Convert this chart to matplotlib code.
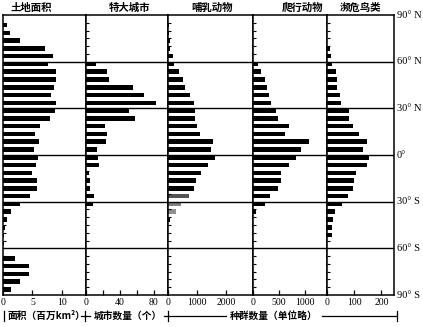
import matplotlib
matplotlib.use("Agg")
import matplotlib.pyplot as plt
from matplotlib.lines import Line2D

plt.rcParams["font.family"] = ["Liberation Serif", "Noto Sans CJK SC", "DejaVu Sans"]

W, H = 423, 327

# 5-degree bands from 90-85N down to 85-90S (36 values each)
land_area = [0, 0.7, 1.2, 2.8, 7.1, 8.5, 7.7, 8.9, 8.9, 8.6, 8.2, 8.9,
             8.8, 8.0, 6.3, 5.5, 6.1, 5.3, 5.9, 5.6, 5.0, 5.8, 5.8, 4.6,
             2.9, 1.3, 0.7, 0.4, 0.2, 0.2, 0, 2.1, 4.4, 4.4, 2.8, 1.4]
megacities = [0, 0, 0, 0, 0, 0, 12, 25, 27, 56, 69, 83,
              51, 58, 23, 25, 24, 13, 14, 15, 4, 5, 5, 9,
              8, 0, 0, 0, 0, 0, 0, 0, 0, 0, 0, 0]
mammals = [0, 30, 30, 60, 60, 160, 200, 375, 510, 580, 750, 890,
           920, 930, 1010, 1090, 1550, 1480, 1625, 1375, 1140, 980, 910, 715,
           450, 260, 70, 0, 0, 0, 0, 0, 0, 0, 0, 0]
reptiles = [0, 0, 0, 0, 0, 0, 90, 150, 230, 270, 305, 350,
            445, 480, 680, 610, 1070, 915, 815, 680, 535, 535, 480, 330,
            230, 65, 0, 0, 0, 0, 0, 0, 0, 0, 0, 0]
birds = [0, 0, 0, 0, 12, 13, 20, 34, 38, 38, 47, 53,
         80, 79, 97, 117, 146, 134, 155, 146, 108, 100, 97, 77,
         54, 29, 23, 20, 20, 0, 0, 0, 0, 0, 0, 0]

titles = ["土地面积", "特大城市", "哺乳动物", "爬行动物", "濒危鸟类"]
xlims = [14.07, 97, 2930, 1415, 246]
xticks = [[0, 5, 10], [0, 40, 80], [0, 1000, 2000], [0, 500, 1000], [0, 100, 200]]
minor_xticks = [[], [20, 60], [], [], []]
lat_labels = ["90° N", "60° N", "30° N", "0°", "30° S", "60° S", "90° S"]
lat_values = [90, 60, 30, 0, -30, -60, -90]
band_tops = [90 - 5 * k for k in range(36)]

series = [land_area, megacities, mammals, reptiles, birds]
edges = [3, 86, 168, 253, 327, 394]
title_x = [31, 130, 212, 302, 360]
top_px, bot_px = 15, 295


def px(x, y):
    return x / W, 1 - y / H


fig = plt.figure(figsize=(W / 100, H / 100), dpi=100)

for i, vals in enumerate(series):
    left = edges[i] / W
    width = (edges[i + 1] - edges[i]) / W
    ax = fig.add_axes([left, 1 - bot_px / H, width, (bot_px - top_px) / H])
    colors = ["black"] * len(vals)
    if i == 2:
        # scan-faded bars in the original
        colors[23] = "#555555"
        colors[24] = "#808080"
        colors[25] = "#909090"
    ax.barh(band_tops, vals, height=-2.9, align="edge", color=colors, linewidth=0)
    for lat in [60, 30, 0, -30, -60]:
        ax.axhline(lat, color="black", linewidth=1.0)
    ax.set_xlim(0, xlims[i])
    ax.set_ylim(-90, 90)
    ax.set_yticks([t for t in range(-85, 90, 5) if t % 30 != 0])
    ax.tick_params(axis="y", direction="in", length=2.5, width=0.8, labelleft=False)
    ax.set_xticks(xticks[i])
    ax.set_xticks(minor_xticks[i], minor=True)
    ax.tick_params(axis="x", which="both", direction="in", length=3.5, width=0.9,
                   pad=2, labelsize=7)
    for sp in ax.spines.values():
        sp.set_linewidth(1.1)
    fig.text(*px(title_x[i], 10.5), titles[i], ha="center", va="baseline",
             family=["Noto Sans CJK SC"], fontweight="bold", fontsize=7.5)

for lab, lat in zip(lat_labels, lat_values):
    y = top_px + (90 - lat) / 180 * (bot_px - top_px)
    fig.text(*px(397, y), lab, ha="left", va="center", fontsize=7.5)

# bottom caption row
cy = 316
cap_font = ["Noto Sans CJK SC", "DejaVu Sans"]
fig.text(*px(46, cy), "面积（百万km²）", ha="center", va="center",
         family=cap_font, fontsize=7, fontweight="bold")
fig.text(*px(128, cy), "城市数量（个）", ha="center", va="center",
         family=cap_font, fontsize=7, fontweight="bold")
fig.text(*px(274, cy), "种群数量（单位略）", ha="center", va="center",
         family=cap_font, fontsize=7, fontweight="bold")
for x in [4, 85, 168, 397]:
    fig.add_artist(Line2D([x / W, x / W], [1 - (cy - 5) / H, 1 - (cy + 5) / H],
                          color="black", linewidth=0.9))
for x0, x1 in [(81, 90), (164, 226), (322, 397)]:
    fig.add_artist(Line2D([x0 / W, x1 / W], [1 - cy / H, 1 - cy / H],
                          color="black", linewidth=0.9))

fig.savefig("out.png", dpi=100)
